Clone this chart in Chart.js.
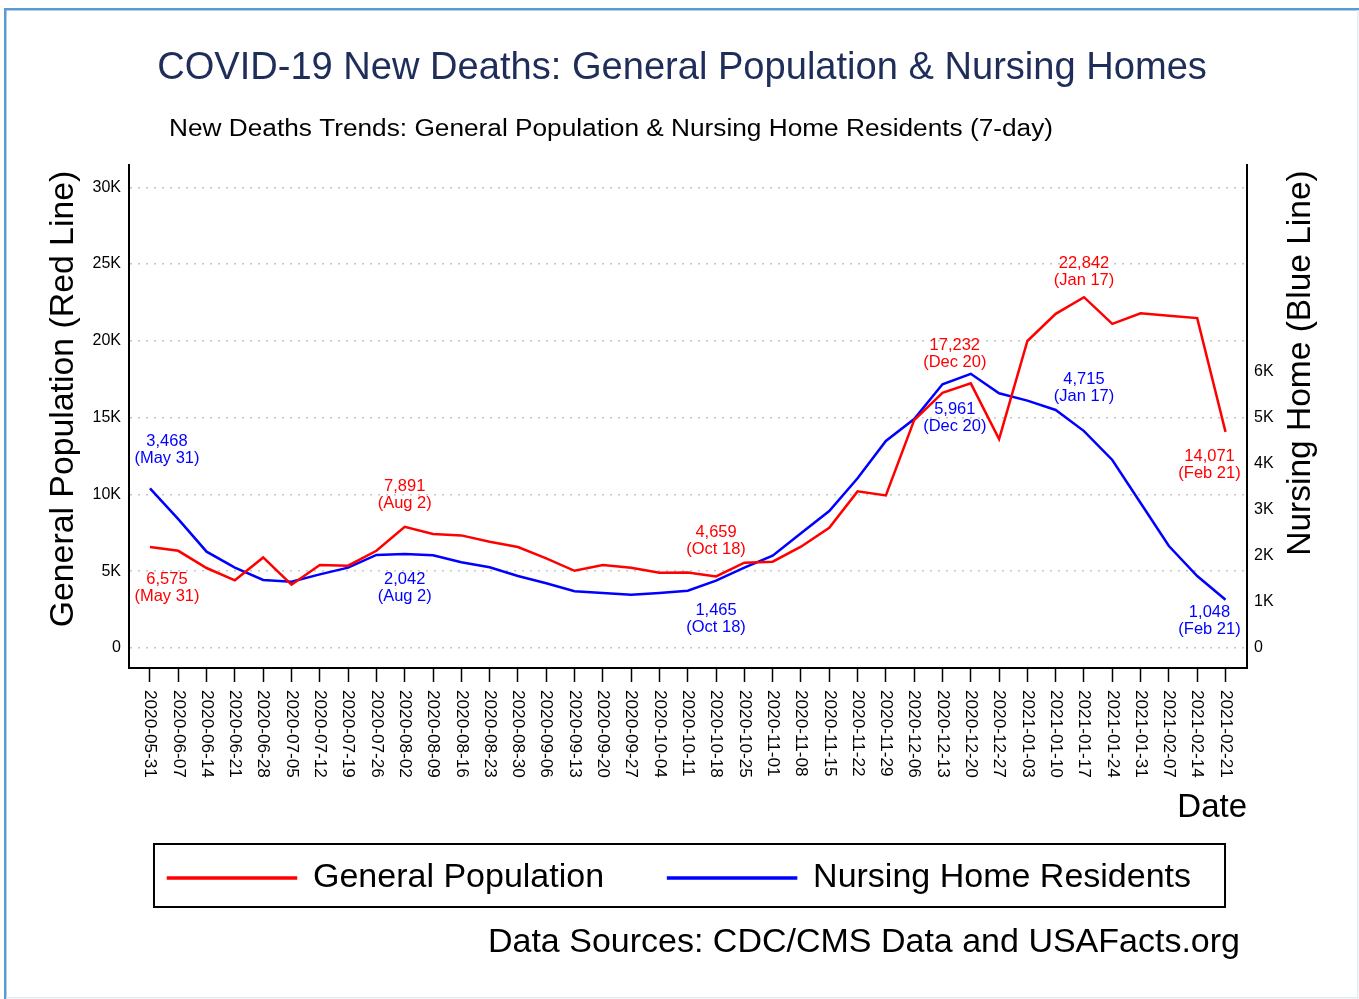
<!DOCTYPE html>
<html>
<head>
<meta charset="utf-8">
<script src="https://cdn.jsdelivr.net/npm/chart.js@4.4.1/dist/chart.umd.min.js"></script>
<style>
html,body{margin:0;padding:0;background:#fff;}
canvas{display:block;}
</style>
</head>
<body>
<canvas id="c" width="1359" height="999"></canvas>
<script>
// ---- data ----
const dates = ['2020-05-31','2020-06-07','2020-06-14','2020-06-21','2020-06-28','2020-07-05','2020-07-12','2020-07-19','2020-07-26','2020-08-02','2020-08-09','2020-08-16','2020-08-23','2020-08-30','2020-09-06','2020-09-13','2020-09-20','2020-09-27','2020-10-04','2020-10-11','2020-10-18','2020-10-25','2020-11-01','2020-11-08','2020-11-15','2020-11-22','2020-11-29','2020-12-06','2020-12-13','2020-12-20','2020-12-27','2021-01-03','2021-01-10','2021-01-17','2021-01-24','2021-01-31','2021-02-07','2021-02-14','2021-02-21'];
const generalPopulation = [6575,6330,5210,4410,5900,4120,5400,5360,6330,7891,7420,7335,6920,6580,5840,5030,5400,5230,4900,4925,4659,5560,5620,6600,7830,10200,9940,14840,16620,17232,13600,19990,21760,22842,21110,21790,21630,21480,14071];
const nursingHomes = [3468,2800,2094,1746,1478,1442,1600,1746,2022,2042,2015,1863,1754,1565,1406,1232,1196,1159,1196,1246,1465,1746,2007,2493,2978,3690,4500,4978,5733,5961,5537,5377,5174,4715,4087,3152,2217,1565,1048];
const leftTicks = [0,5000,10000,15000,20000,25000,30000];
const rightTicks = [0,1000,2000,3000,4000,5000,6000];
const labelIdx = [0,9,20,29,33,38];

// ---- label placement (pixels relative to the point) ----
const redLabelPos  = [{dx:17,dy:32},{dx:0,dy:-40},{dx:0,dy:-44},{dx:-16,dy:-38},{dx:0,dy:-34},{dx:-16,dy:25}];
const blueLabelPos = [{dx:17,dy:-47},{dx:0,dy:25},{dx:0,dy:30},{dx:-16,dy:36},{dx:0,dy:-52},{dx:-16,dy:13}];

const FONT = '"Liberation Sans", Arial, Helvetica, sans-serif';
const MONTHS = ['Jan','Feb','Mar','Apr','May','Jun','Jul','Aug','Sep','Oct','Nov','Dec'];
function shortDate(d){ const p = d.split('-'); return MONTHS[+p[1]-1] + ' ' + (+p[2]); }
function fmtK(v){ return v === 0 ? '0' : (v/1000) + 'K'; }

function txt(ctx, s, x, y, size, color, align, rot, stretchTo){
  ctx.save();
  ctx.font = size + 'px ' + FONT;
  ctx.fillStyle = color;
  ctx.textAlign = align;
  ctx.textBaseline = 'middle';
  ctx.translate(x, y);
  if (rot) ctx.rotate(rot);
  if (stretchTo){ const w = ctx.measureText(s).width; ctx.scale(stretchTo / w, 1); }
  ctx.fillText(s, 0, 0);
  ctx.restore();
}

const decor = {
  id: 'decor',
  beforeDraw(chart){
    const ctx = chart.ctx;
    ctx.save();
    ctx.fillStyle = '#ffffff';
    ctx.fillRect(0, 0, chart.width, chart.height);
    ctx.fillStyle = '#5b9bd5';
    ctx.fillRect(4, 8, 1355, 2.5);
    ctx.fillRect(4, 8, 2.5, 991);
    ctx.fillStyle = '#e4ecf3';
    ctx.fillRect(1357, 10, 1.5, 989);
    ctx.fillRect(6, 997, 1352, 1.5);
    ctx.restore();
  },
  afterDraw(chart){
    const ctx = chart.ctx;
    const xs = chart.scales.x, yl = chart.scales.y, yr = chart.scales.y1;
    // titles
    txt(ctx, 'COVID-19 New Deaths: General Population & Nursing Homes', 682, 68, 38.1, '#1e2d5a', 'center');
    txt(ctx, 'New Deaths Trends: General Population & Nursing Home Residents (7-day)', 169, 130, 23, '#000', 'left', 0, 884);
    txt(ctx, 'Data Sources: CDC/CMS Data and USAFacts.org', 1240, 943, 34, '#000', 'right');
    // axis titles
    txt(ctx, 'General Population (Red Line)', 64, 399, 33.8, '#000', 'center', -Math.PI/2);
    txt(ctx, 'Nursing Home (Blue Line)', 1301, 363, 33.5, '#000', 'center', -Math.PI/2);
    // x tick labels (read top to bottom)
    dates.forEach((d, i) => {
      txt(ctx, d, xs.getPixelForValue(i), 690, 17.2, '#000', 'left', Math.PI/2);
    });
    // point labels
    labelIdx.forEach((idx, k) => {
      const px = xs.getPixelForValue(idx);
      const gv = generalPopulation[idx], nv = nursingHomes[idx];
      const gy = yl.getPixelForValue(gv) + redLabelPos[k].dy;
      const gx = px + redLabelPos[k].dx;
      txt(ctx, gv.toLocaleString('en-US'), gx, gy, 16.5, '#ff0000', 'center');
      txt(ctx, '(' + shortDate(dates[idx]) + ')', gx, gy + 17, 16.5, '#ff0000', 'center');
      const ny = yr.getPixelForValue(nv) + blueLabelPos[k].dy;
      const nx = px + blueLabelPos[k].dx;
      txt(ctx, nv.toLocaleString('en-US'), nx, ny, 16.5, '#0000ff', 'center');
      txt(ctx, '(' + shortDate(dates[idx]) + ')', nx, ny + 17, 16.5, '#0000ff', 'center');
    });
    // legend frame
    const hb = chart.legend && chart.legend.legendHitBoxes;
    if (hb && hb.length){
      const last = hb[hb.length-1];
      const l = hb[0].left - 14, r = last.left + last.width + 34;
      const t = hb[0].top - 17, b = hb[0].top + hb[0].height + 12;
      ctx.save();
      ctx.strokeStyle = '#000';
      ctx.lineWidth = 2;
      ctx.strokeRect(l, t, r - l, b - t);
      ctx.restore();
    }
  }
};

new Chart(document.getElementById('c'), {
  type: 'line',
  data: {
    datasets: [
      { label: 'General Population', data: generalPopulation.map((v, i) => ({x: i, y: v})), yAxisID: 'y', xAxisID: 'x',
        borderColor: '#ff0000', backgroundColor: '#ff0000', borderWidth: 2.5, pointRadius: 0, tension: 0 },
      { label: 'Nursing Home Residents', data: nursingHomes.map((v, i) => ({x: i, y: v})), yAxisID: 'y1', xAxisID: 'x',
        borderColor: '#0000ff', backgroundColor: '#0000ff', borderWidth: 2.5, pointRadius: 0, tension: 0 }
    ]
  },
  options: {
    responsive: false,
    animation: false,
    devicePixelRatio: 1,
    layout: { padding: { top: 165, left: 0, right: 0, bottom: 94 } },
    plugins: {
      title: { display: false },
      tooltip: { enabled: false },
      legend: {
        position: 'bottom',
        labels: { boxWidth: 128, boxHeight: 1, padding: 64, color: '#000', font: { size: 34, family: FONT } }
      }
    },
    scales: {
      x: {
        type: 'linear', position: 'bottom', min: -0.741, max: 38.759,
        afterBuildTicks: s => { s.ticks = dates.map((d, i) => ({value: i})); },
        afterFit: s => { s.height = 129; },
        ticks: { display: false },
        grid: { display: true, drawOnChartArea: false, drawTicks: true, tickLength: 14, tickColor: '#000', tickWidth: 1.5 },
        border: { display: true, color: '#000', width: 2 },
        title: { display: true, text: 'Date', align: 'end', color: '#000', font: { size: 33, family: FONT }, padding: { top: 0, bottom: -31 } }
      },
      y: {
        type: 'linear', position: 'left', min: -1300, max: 31450,
        afterBuildTicks: s => { s.ticks = leftTicks.map(v => ({value: v})); },
        afterFit: s => { s.width = 129; },
        ticks: { padding: 8, color: '#000', font: { size: 16, family: FONT }, callback: v => fmtK(v) },
        grid: { display: true, drawOnChartArea: true, drawTicks: false, color: '#c4c4c4', lineWidth: 1.5 },
        border: { display: true, color: '#000', width: 2, dash: [2, 6] }
      },
      y1: {
        type: 'linear', position: 'right', min: -435, max: 10500,
        afterBuildTicks: s => { s.ticks = rightTicks.map(v => ({value: v})); },
        afterFit: s => { s.width = 112; },
        ticks: { padding: 7, color: '#000', font: { size: 16, family: FONT }, callback: v => fmtK(v) },
        grid: { display: false, drawTicks: false },
        border: { display: true, color: '#000', width: 2 }
      }
    }
  },
  plugins: [decor]
});
</script>
</body>
</html>
